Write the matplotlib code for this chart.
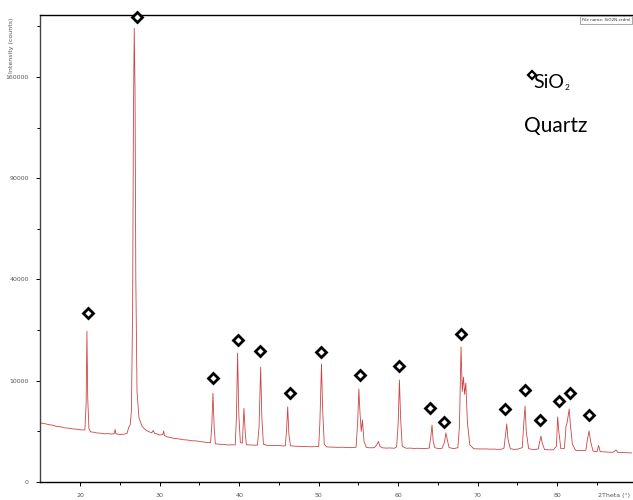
import numpy as np
import matplotlib
matplotlib.use('Agg')
import matplotlib.pyplot as plt

# XRD pattern of SiO2 (quartz)
two_theta = [15.0, 15.5, 16.0, 16.5, 17.0, 17.5, 18.0, 18.5, 19.0, 19.5, 20.0, 20.4,
             20.6, 20.75, 20.85, 20.95, 21.1, 21.3, 21.7, 22.0, 22.5, 23.0, 23.5, 24.0,
             24.3, 24.4, 24.5, 25.0, 25.5, 25.9, 26.1, 26.3, 26.45, 26.6, 26.7, 26.8,
             26.9, 27.0, 27.15, 27.4, 27.8, 28.3, 28.7, 29.0, 29.2, 29.35, 29.7, 30.0,
             30.4, 30.5, 30.6, 31.0, 31.5, 32.0, 32.5, 33.0, 33.5, 34.0, 34.5, 35.0,
             35.5, 36.0, 36.4, 36.55, 36.7, 36.85, 37.0, 37.5, 38.0, 38.5, 39.0, 39.5,
             39.65, 39.8, 39.95, 40.15, 40.4, 40.5, 40.6, 40.75, 40.9, 41.5, 42.0, 42.3,
             42.5, 42.7, 42.85, 43.05, 43.5, 44.0, 44.5, 45.0, 45.5, 45.8, 45.95, 46.1,
             46.25, 46.45, 47.0, 47.5, 48.0, 48.5, 49.0, 49.5, 50.0, 50.15, 50.35, 50.5,
             50.7, 51.0, 51.5, 52.0, 52.5, 53.0, 53.5, 54.0, 54.7, 54.9, 55.05, 55.2,
             55.35, 55.5, 55.7, 56.0, 56.5, 57.0, 57.3, 57.5, 57.7, 58.0, 58.5, 59.0,
             59.5, 59.8, 60.0, 60.15, 60.3, 60.5, 61.0, 61.5, 62.0, 62.5, 63.0, 63.5,
             63.9, 64.1, 64.25, 64.4, 64.6, 65.0, 65.5, 65.8, 66.0, 66.15, 66.4, 67.0,
             67.5, 67.7, 67.9, 68.05, 68.2, 68.35, 68.5, 68.7, 69.0, 69.5, 70.0, 70.5,
             71.0, 71.5, 72.0, 72.5, 73.0, 73.3, 73.5, 73.65, 73.8, 74.1, 74.5, 75.0,
             75.6, 75.8, 75.95, 76.1, 76.4, 77.0, 77.6, 77.8, 77.95, 78.1, 78.4, 79.0,
             79.5, 79.9, 80.05, 80.2, 80.45, 80.9, 81.1, 81.25, 81.5, 81.65, 81.9, 82.3,
             83.0, 83.6, 83.8, 84.0, 84.2, 84.5, 85.0, 85.2, 85.4, 86.0, 86.5, 87.0,
             87.4, 87.6, 88.0, 88.5, 89.0, 89.5, 90.0]
counts = [3400, 3330, 3220, 3150, 3020, 2980, 2870, 2830, 2760, 2720, 2660, 2640,
          2650, 6000, 22200, 7000, 2800, 2450, 2420, 2350, 2330, 2260, 2280, 2240,
          2300, 2700, 2260, 2200, 2230, 2300, 2900, 3200, 5000, 30000, 130000, 200900,
          150000, 40000, 8000, 4000, 3000, 2600, 2450, 2350, 2600, 2300, 2250, 2150,
          2200, 2550, 2100, 1980, 1900, 1840, 1800, 1740, 1720, 1660, 1650, 1610,
          1560, 1520, 1500, 3000, 7700, 3000, 1420, 1390, 1380, 1340, 1350, 1340,
          4000, 16200, 4500, 1500, 1480, 3000, 5300, 2500, 1350, 1330, 1320, 1330,
          3000, 12900, 4000, 1400, 1310, 1300, 1290, 1300, 1270, 1280, 2500, 5500,
          2200, 1280, 1250, 1240, 1230, 1220, 1210, 1220, 1230, 3500, 13600, 5000,
          1400, 1200, 1190, 1180, 1170, 1180, 1160, 1150, 1180, 3500, 8450, 4500,
          2500, 3750, 1600, 1160, 1140, 1150, 1350, 1600, 1250, 1140, 1120, 1130,
          1110, 1200, 3500, 10150, 4000, 1250, 1110, 1120, 1100, 1110, 1090, 1100,
          1120, 2000, 3170, 1600, 1150, 1090, 1100, 1500, 2340, 1800, 1150, 1090,
          1150, 3000, 17800, 8000, 10750, 7500, 9560, 3500, 1350, 1080, 1070, 1060,
          1070, 1050, 1060, 1040, 1050, 1120, 2200, 3280, 1800, 1080, 1040, 1050,
          1150, 3500, 5630, 2500, 1080, 1030, 1060, 1600, 2060, 1500, 1030, 1010,
          1010, 1250, 4120, 2500, 1080, 1100, 3000, 3500, 5190, 3200, 1400, 980,
          960, 980, 1800, 2540, 1600, 930, 900, 1300, 900, 880, 870, 860,
          1000, 860, 850, 840, 830, 820, 820]

# diamond markers for the quartz reflections
mark_theta = [21.0, 27.2, 36.7, 39.9, 42.6, 46.4, 50.3, 55.2, 60.1, 64.0, 65.8, 67.9,
              73.4, 75.9, 77.8, 80.2, 81.6, 84.0]
mark_counts = [27850, 210700, 10550, 19670, 16740, 7730, 16490, 11170, 13130, 5340, 3510, 21370,
               5200, 8260, 3750, 6400, 7730, 4380]

y_ticks = [0, 10000, 40000, 90000, 160000]
y_minor = [2500, 22500, 62500, 122500, 202500]
x_ticks = [20, 30, 40, 50, 60, 70, 80]
x_minor = [25, 35, 45, 55, 65, 75, 85]

fig = plt.figure(figsize=(6.33, 5.0), dpi=100)
ax = fig.add_axes([40 / 633, 18 / 500, 592 / 633, 467 / 500])

ax.set_yscale('function', functions=(lambda v: np.sqrt(np.clip(v, 0, None)), lambda v: v ** 2))
ax.plot(two_theta, counts, color='#cc4444', linewidth=0.6)
ax.plot(mark_theta, mark_counts, linestyle='none', marker='D', markersize=5.5,
        markerfacecolor='white', markeredgecolor='black', markeredgewidth=2, clip_on=False, zorder=5)

ax.set_xlim(14.95, 89.4)
ax.set_ylim(0, 212700)
ax.set_xticks(x_ticks)
ax.set_xticks(x_minor, minor=True)
ax.set_yticks(y_ticks)
ax.set_yticks(y_minor, minor=True)
ax.set_yticklabels([str(v) for v in y_ticks])
ax.set_xticklabels([str(v) for v in x_ticks])
ax.tick_params(which='major', direction='out', length=3, width=0.7, labelsize=4.5,
               labelcolor='#555555', pad=5)
ax.tick_params(which='minor', direction='out', length=2, width=0.7)
ax.spines['right'].set_visible(False)
for s in ['left', 'bottom', 'top']:
    ax.spines[s].set_linewidth(1.0)
ax.spines['left'].set_color('#444444')

fig.text(12 / 633, 1 - 45 / 500, 'Intensity (counts)', rotation=90, fontsize=4.5,
         color='#555555', ha='center', va='center')
fig.text(630 / 633, 1 - 495 / 500, '2Theta (°)', fontsize=4.5, color='#555555',
         ha='right', va='center')
fig.text(606 / 633, 1 - 20 / 500, 'File name: SiO2N.xrdml', fontsize=3.0, color='#333333',
         ha='center', va='center',
         bbox=dict(boxstyle='square,pad=0.4', facecolor='white', edgecolor='#999999', linewidth=0.6))

# legend block
fam = ['Lato', 'DejaVu Sans']
ax.plot([76.8], [161600], linestyle='none', marker='D', markersize=4.5,
        markerfacecolor='white', markeredgecolor='black', markeredgewidth=1.6)
fig.text(533 / 633, 1 - 82 / 500, 'SiO', fontsize=14, family=fam, ha='left', va='center')
fig.text(565 / 633, 1 - 88 / 500, '2', fontsize=6, family=fam, ha='left', va='center')
fig.text(524 / 633, 1 - 126 / 500, 'Quartz', fontsize=15, family=fam, ha='left', va='center')

fig.savefig('out.png', dpi=100)
